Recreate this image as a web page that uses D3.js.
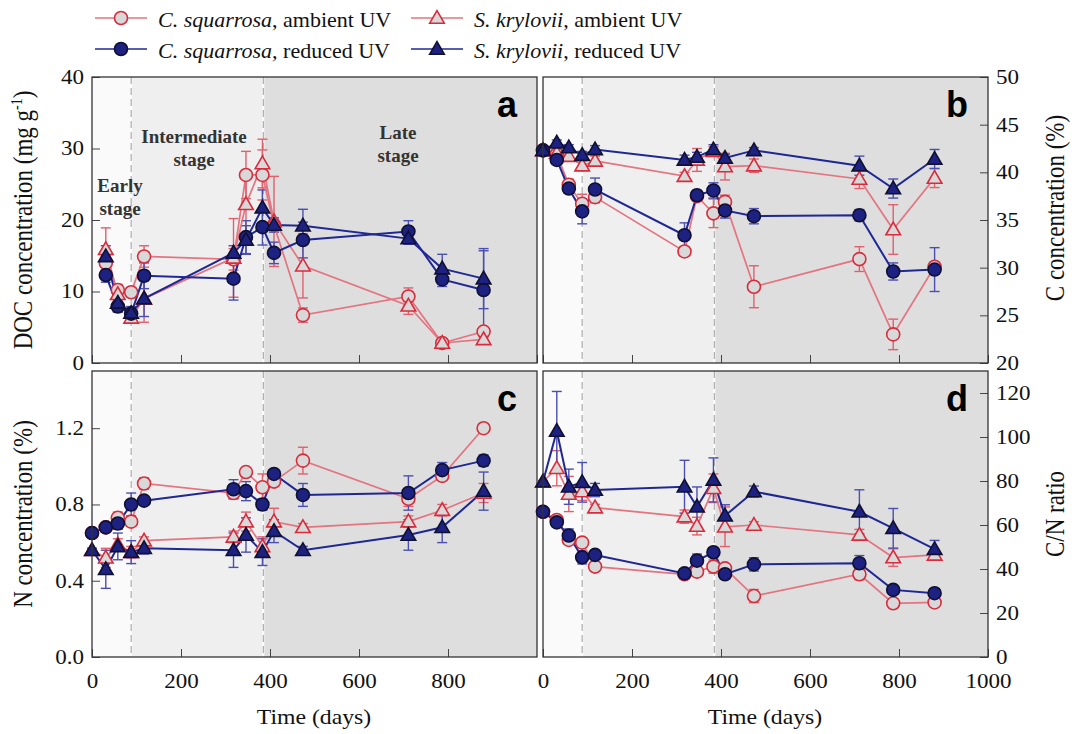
<!DOCTYPE html>
<html>
<head>
<meta charset="utf-8">
<script src="https://cdn.jsdelivr.net/npm/d3@7"></script>
<style>
  body { margin: 0; background: #fff; }
  svg { display: block; }
</style>
</head>
<body>
<svg id="chart" width="1072" height="734"></svg>
<script>
// ---- Sampling days ----
const days = [0, 31, 58, 88, 117, 318, 346, 383, 409, 474, 711, 787, 880];
const stageBreaks = [88, 385];

// ---- Panel a: DOC concentration (mg g-1); no day-0 sample ----
const docCsAmb   = [null, 14.0, 10.2, 9.9, 14.9, 14.5, 26.3, 26.3, 19.3, 6.7, 9.3, 2.8, 4.4];
const docCsRed   = [null, 12.3, 7.9, 6.9, 12.2, 11.8, 17.6, 19.0, 15.4, 17.2, 18.4, 11.7, 10.2];
const docSkAmb   = [null, 15.9, 9.6, 6.3, 9.0, 14.7, 22.2, 27.9, 19.8, 13.6, 8.0, 2.8, 3.3];
const docSkRed   = [null, 14.9, 8.4, 7.0, 9.0, 15.4, 17.2, 21.7, 19.3, 19.2, 17.4, 13.2, 11.8];
const docCsAmbSE = [null, 1.0, 0.8, 0.5, 1.5, 1.5, 3.3, 3.5, 0.8, 1.0, 1.2, 0.3, 0.5];
const docCsRedSE = [null, 1.0, 0.8, 1.0, 1.8, 3.0, 2.3, 2.5, 1.5, 2.5, 1.5, 1.0, 5.5];
const docSkAmbSE = [null, 3.0, 1.0, 0.6, 3.3, 5.5, 4.0, 3.4, 6.3, 4.5, 1.2, 0.3, 0.3];
const docSkRedSE = [null, 1.5, 1.0, 0.8, 2.5, 1.0, 2.0, 2.5, 1.0, 2.3, 0.8, 2.0, 4.2];

// ---- Panel b: C concentration (%) ----
const cCsAmb   = [42.3, 41.9, 38.7, 36.7, 37.4, 31.7, 37.5, 35.7, 36.9, 28.0, 30.9, 23.0, 30.1];
const cCsRed   = [42.3, 41.3, 38.3, 35.9, 38.2, 33.4, 37.6, 38.1, 36.0, 35.4, 35.5, 29.6, 29.8];
const cSkAmb   = [42.3, 42.0, 41.7, 40.7, 41.2, 39.6, 41.3, 42.2, 40.6, 40.7, 39.3, 34.0, 39.4];
const cSkRed   = [42.3, 43.1, 42.6, 41.8, 42.4, 41.3, 41.6, 42.4, 41.5, 42.3, 40.7, 38.3, 41.4];
const cCsAmbSE = [0.2, 0.4, 0.6, 1.0, 0.6, 0.5, 0.5, 1.5, 0.7, 2.2, 1.3, 1.6, 0.4];
const cCsRedSE = [0.2, 0.4, 0.5, 1.3, 1.2, 1.3, 0.5, 0.8, 0.8, 0.8, 0.6, 0.9, 2.3];
const cSkAmbSE = [0.2, 0.3, 0.5, 0.5, 0.5, 0.4, 1.2, 0.5, 1.4, 0.7, 1.0, 2.6, 1.0];
const cSkRedSE = [0.2, 0.3, 0.3, 0.4, 0.4, 0.5, 0.5, 0.5, 0.4, 0.3, 1.0, 1.0, 1.0];

// ---- Panel c: N concentration (%) ----
const nCsAmb   = [0.65, 0.68, 0.73, 0.71, 0.91, 0.86, 0.97, 0.89, 0.92, 1.03, 0.83, 0.95, 1.20];
const nCsRed   = [0.65, 0.68, 0.70, 0.80, 0.82, 0.88, 0.87, 0.80, 0.96, 0.85, 0.86, 0.98, 1.03];
const nSkAmb   = [0.56, 0.52, 0.59, 0.55, 0.61, 0.63, 0.71, 0.58, 0.71, 0.68, 0.71, 0.77, 0.86];
const nSkRed   = [0.56, 0.46, 0.58, 0.55, 0.57, 0.56, 0.64, 0.55, 0.66, 0.56, 0.64, 0.68, 0.87];
const nCsAmbSE = [0.01, 0.02, 0.03, 0.02, 0.03, 0.03, 0.02, 0.07, 0.02, 0.07, 0.04, 0.02, 0.01];
const nCsRedSE = [0.01, 0.02, 0.03, 0.06, 0.02, 0.05, 0.05, 0.03, 0.02, 0.06, 0.09, 0.04, 0.03];
const nSkAmbSE = [0.01, 0.05, 0.03, 0.03, 0.02, 0.03, 0.05, 0.05, 0.07, 0.02, 0.03, 0.03, 0.05];
const nSkRedSE = [0.01, 0.10, 0.07, 0.06, 0.03, 0.09, 0.09, 0.07, 0.06, 0.02, 0.08, 0.08, 0.10];

// ---- Panel d: C/N ratio ----
const cnCsAmb   = [66.0, 62.3, 53.2, 52.0, 41.1, 37.6, 38.8, 41.1, 40.3, 27.7, 37.6, 24.4, 24.8];
const cnCsRed   = [66.0, 61.2, 55.2, 45.3, 46.4, 38.0, 43.8, 47.6, 37.6, 42.1, 42.6, 30.5, 29.0];
const cnSkAmb   = [79.7, 85.8, 74.1, 75.2, 67.9, 63.8, 59.5, 76.7, 59.2, 60.0, 55.5, 45.2, 46.4];
const cnSkRed   = [79.7, 102.7, 77.4, 79.4, 75.9, 77.4, 68.3, 80.5, 64.2, 75.2, 66.0, 58.5, 49.0];
const cnCsAmbSE = [0.5, 1.0, 2.0, 2.0, 1.0, 1.0, 1.0, 3.0, 1.0, 3.0, 2.5, 1.0, 1.0];
const cnCsRedSE = [0.5, 1.0, 3.0, 3.0, 2.0, 2.0, 3.0, 2.0, 1.0, 3.0, 3.5, 2.0, 2.0];
const cnSkAmbSE = [0.5, 8.0, 8.0, 4.0, 1.5, 3.0, 4.0, 6.5, 9.0, 1.5, 2.5, 4.0, 2.0];
const cnSkRedSE = [0.5, 18.0, 8.0, 9.0, 3.0, 12.0, 9.0, 10.0, 5.0, 2.5, 10.0, 9.0, 4.0];

// ---- Tick labels ----
const xTicksLeft  = [0, 200, 400, 600, 800];
const xTicksRight = [0, 200, 400, 600, 800, 1000];
const docTicks = [0, 10, 20, 30, 40];
const cTicks   = [20, 25, 30, 35, 40, 45, 50];
const nTicks   = [0.0, 0.4, 0.8, 1.2];
const cnTicks  = [0, 20, 40, 60, 80, 100, 120];

// ---- Series styling ----
const RED_LINE = "#e37480", RED_MARK = "#d92b3c", RED_ERR = "#e0606e";
const BLUE_LINE = "#1f2794", BLUE_FILL = "#1c2182", BLUE_ERR = "#4b4fb0";
const seriesStyle = {
  csAmb: { shape: "circle",   line: RED_LINE,  stroke: RED_MARK, fill: "#d8d8d8", err: RED_ERR },
  skAmb: { shape: "triangle", line: RED_LINE,  stroke: RED_MARK, fill: "#d8d8d8", err: RED_ERR },
  csRed: { shape: "circle",   line: BLUE_LINE, stroke: "#101030", fill: BLUE_FILL, err: BLUE_ERR },
  skRed: { shape: "triangle", line: BLUE_LINE, stroke: "#101030", fill: BLUE_FILL, err: BLUE_ERR }
};

const SERIF = "'Liberation Serif', 'Times New Roman', serif";
const SANS = "'Liberation Sans', Arial, sans-serif";
const svg = d3.select("#chart");

const triangle = d3.symbol().type(d3.symbolTriangle).size(92);
function drawMarker(g, shape, x, y, st) {
  if (shape === "circle") {
    g.append("circle").attr("cx", x).attr("cy", y).attr("r", 6.5)
      .attr("fill", st.fill).attr("stroke", st.stroke).attr("stroke-width", 1.6);
  } else {
    g.append("path").attr("d", triangle).attr("transform", `translate(${x},${y + 1})`)
      .attr("fill", st.fill).attr("stroke", st.stroke).attr("stroke-width", 1.6);
  }
}

function stretchedText(g, x, y, rotate, sx, txt, opts) {
  const t = g.append("text")
    .attr("transform", rotate
      ? `translate(${x},${y}) rotate(-90) scale(1,${sx})`
      : `translate(${x},${y}) scale(${sx},1)`)
    .attr("text-anchor", opts.anchor || "middle")
    .attr("font-family", opts.family || SERIF)
    .attr("font-size", opts.size)
    .attr("fill", opts.fill || "#111");
  return t;
}

function drawPanel(cfg) {
  const { x0, y0, w, h } = cfg;
  const x = d3.scaleLinear().domain([0, 1000]).range([x0, x0 + w]);
  const y = d3.scaleLinear().domain(cfg.yDomain).range([y0 + h, y0]);
  const g = svg.append("g");

  // Stage backgrounds
  const bounds = [0, stageBreaks[0], stageBreaks[1], 1000];
  const shades = ["#fafafa", "#efefef", "#dedede"];
  shades.forEach((c, i) => {
    g.append("rect").attr("x", x(bounds[i])).attr("y", y0)
      .attr("width", x(bounds[i + 1]) - x(bounds[i])).attr("height", h).attr("fill", c);
  });
  stageBreaks.forEach(b => {
    g.append("line").attr("x1", x(b)).attr("x2", x(b)).attr("y1", y0).attr("y2", y0 + h)
      .attr("stroke", "#ffffff").attr("stroke-width", 2);
    g.append("line").attr("x1", x(b)).attr("x2", x(b)).attr("y1", y0).attr("y2", y0 + h)
      .attr("stroke", "#aaaaaa").attr("stroke-width", 1.2).attr("stroke-dasharray", "7,4");
  });

  if (cfg.stageLabels) {
    const lab = [["Early", "stage", 120, 192], ["Intermediate", "stage", 194, 143], ["Late", "stage", 398, 139]];
    lab.forEach(([a, b, lx, ly]) => {
      [a, b].forEach((s, k) => g.append("text").attr("x", lx).attr("y", ly + k * 23)
        .attr("text-anchor", "middle").attr("font-family", SERIF).attr("font-weight", "bold")
        .attr("font-size", 19).attr("fill", "#333").text(s));
    });
  }

  // Axes (ticks point inward)
  const yAxis = (cfg.side === "left" ? d3.axisLeft(y) : d3.axisRight(y))
    .tickValues(cfg.yTicks).tickFormat(cfg.yFmt).tickSizeInner(-8).tickSizeOuter(0).tickPadding(7);
  const ya = g.append("g").attr("transform", `translate(${cfg.side === "left" ? x0 : x0 + w},0)`).call(yAxis);
  const xAxis = d3.axisBottom(x).tickValues(cfg.xTicks || [0, 200, 400, 600, 800, 1000])
    .tickSizeInner(-8).tickSizeOuter(0).tickPadding(17)
    .tickFormat(cfg.xTicks ? d3.format("d") : "");
  const xa = g.append("g").attr("transform", `translate(0,${y0 + h})`).call(xAxis);
  [ya, xa].forEach(a => {
    a.select(".domain").remove();
    a.selectAll("line").attr("stroke", "#444");
    a.selectAll("text").attr("font-family", SERIF).attr("font-size", 20).attr("fill", "#111")
      .attr("transform", "scale(1.15,1)");
  });

  // Error bars
  const cap = 5;
  cfg.series.forEach(s => {
    const st = seriesStyle[s.key];
    days.forEach((d, i) => {
      const v = s.values[i], e = s.errors[i];
      if (v == null || e == null) return;
      const px = x(d), yt = y(v + e), yb = y(v - e);
      g.append("line").attr("x1", px).attr("x2", px).attr("y1", yt).attr("y2", yb)
        .attr("stroke", st.err).attr("stroke-width", 1.4);
      [yt, yb].forEach(yy => g.append("line").attr("x1", px - cap).attr("x2", px + cap)
        .attr("y1", yy).attr("y2", yy).attr("stroke", st.err).attr("stroke-width", 1.4));
    });
  });

  // Lines
  const line = d3.line().defined(d => d.v != null).x(d => x(d.t)).y(d => y(d.v));
  cfg.series.forEach(s => {
    const st = seriesStyle[s.key];
    g.append("path").datum(days.map((t, i) => ({ t, v: s.values[i] })))
      .attr("d", line).attr("fill", "none").attr("stroke", st.line)
      .attr("stroke-width", s.key.endsWith("Amb") ? 1.7 : 2);
  });

  // Markers
  cfg.series.forEach(s => {
    const st = seriesStyle[s.key];
    days.forEach((t, i) => {
      if (s.values[i] == null) return;
      drawMarker(g, st.shape, x(t), y(s.values[i]), st);
    });
  });

  // Frame
  g.append("rect").attr("x", x0).attr("y", y0).attr("width", w).attr("height", h)
    .attr("fill", "none").attr("stroke", "#333").attr("stroke-width", 1.3);

  // Panel letter
  g.append("text").attr("x", x0 + w - 20).attr("y", y0 + 40).attr("text-anchor", "end")
    .attr("font-family", SANS).attr("font-weight", "bold").attr("font-size", 36)
    .attr("fill", "#000").text(cfg.letter);
}

const order = (cs, csR, sk, skR, e1, e2, e3, e4) => [
  { key: "csAmb", values: cs, errors: e1 },
  { key: "skAmb", values: sk, errors: e3 },
  { key: "csRed", values: csR, errors: e2 },
  { key: "skRed", values: skR, errors: e4 }
];

drawPanel({ x0: 92, y0: 77, w: 445, h: 286, letter: "a", side: "left", stageLabels: true,
  yDomain: [0, 40], yTicks: docTicks, yFmt: d3.format("d"),
  series: order(docCsAmb, docCsRed, docSkAmb, docSkRed, docCsAmbSE, docCsRedSE, docSkAmbSE, docSkRedSE) });
drawPanel({ x0: 543, y0: 77, w: 445, h: 286, letter: "b", side: "right",
  yDomain: [20, 50], yTicks: cTicks, yFmt: d3.format("d"),
  series: order(cCsAmb, cCsRed, cSkAmb, cSkRed, cCsAmbSE, cCsRedSE, cSkAmbSE, cSkRedSE) });
drawPanel({ x0: 92, y0: 371, w: 445, h: 286, letter: "c", side: "left", xTicks: xTicksLeft,
  yDomain: [0, 1.5], yTicks: nTicks, yFmt: d3.format(".1f"),
  series: order(nCsAmb, nCsRed, nSkAmb, nSkRed, nCsAmbSE, nCsRedSE, nSkAmbSE, nSkRedSE) });
drawPanel({ x0: 543, y0: 371, w: 445, h: 286, letter: "d", side: "right", xTicks: xTicksRight,
  yDomain: [0, 130], yTicks: cnTicks, yFmt: d3.format("d"),
  series: order(cnCsAmb, cnCsRed, cnSkAmb, cnSkRed, cnCsAmbSE, cnCsRedSE, cnSkAmbSE, cnSkRedSE) });

// ---- Axis titles ----
const doc = stretchedText(svg, 32, 220, true, 1.15, "", { size: 23 });
doc.append("tspan").text("DOC concentration (mg g");
doc.append("tspan").attr("dy", -9).attr("font-size", 14).text("-1");
doc.append("tspan").attr("dy", 9).text(")");
stretchedText(svg, 32, 514, true, 1.15, "", { size: 23 }).text("N concentration (%)");
stretchedText(svg, 1064, 208, true, 1.15, "", { size: 23 }).text("C concentration (%)");
stretchedText(svg, 1064, 514, true, 1.15, "", { size: 23 }).text("C/N ratio");
stretchedText(svg, 314, 724, false, 1.08, "", { size: 22 }).text("Time (days)");
stretchedText(svg, 765, 724, false, 1.08, "", { size: 22 }).text("Time (days)");

// ---- Legend ----
const legendItems = [
  { key: "csAmb", sp: "C. squarrosa", rest: ", ambient UV", x: 121, y: 18 },
  { key: "csRed", sp: "C. squarrosa,", rest: " reduced UV", x: 121, y: 49 },
  { key: "skAmb", sp: "S. krylovii", rest: ", ambient UV", x: 437, y: 18 },
  { key: "skRed", sp: "S. krylovii", rest: ", reduced UV", x: 437, y: 49 }
];
const lg = svg.append("g");
legendItems.forEach(it => {
  const st = seriesStyle[it.key];
  lg.append("line").attr("x1", it.x - 26).attr("x2", it.x + 26).attr("y1", it.y).attr("y2", it.y)
    .attr("stroke", st.line).attr("stroke-width", 1.6);
  drawMarker(lg, st.shape, it.x, it.y, st);
  const t = lg.append("text").attr("x", it.x + 37).attr("y", it.y + 9)
    .attr("font-family", SERIF).attr("font-size", 22).attr("fill", "#111");
  t.append("tspan").attr("font-style", "italic").text(it.sp);
  t.append("tspan").text(it.rest);
});
</script>
</body>
</html>
